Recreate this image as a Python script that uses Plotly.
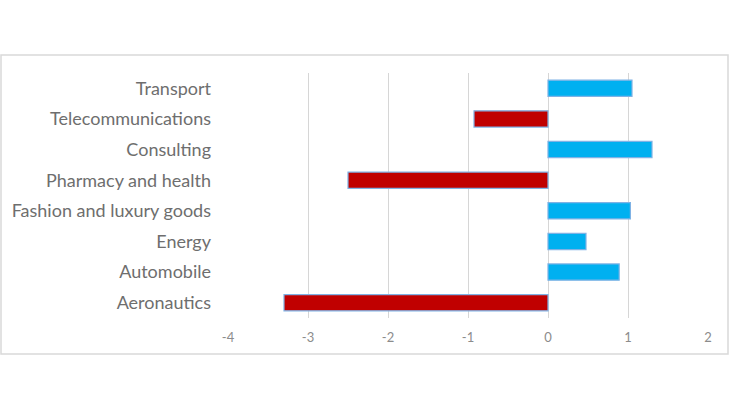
import plotly.graph_objects as go

categories = ["Aeronautics", "Automobile", "Energy", "Fashion and luxury goods",
              "Pharmacy and health", "Consulting", "Telecommunications", "Transport"]
values = [-3.30, 0.89, 0.475, 1.03, -2.50, 1.30, -0.925, 1.05]
tick_vals = [-4, -3, -2, -1, 0, 1, 2]
tick_text = ["-4", "-3", "-2", "-1", "0", "1", "2"]

colors = ["#C00000" if v < 0 else "#00B0F0" for v in values]

fig = go.Figure(go.Bar(
    x=values, y=categories, orientation="h",
    marker=dict(color=colors, line=dict(color="#7FB2E5", width=1.2)),
))

W, H = 730, 410
L, R, T, B = 228, 22, 73, 92
pw, ph = W - L - R, H - T - B

def px2paper_x(px):
    return (px - L) / pw

def px2paper_y(py):
    return (H - B - py) / ph

fig.update_layout(
    width=W, height=H,
    margin=dict(l=L, r=R, t=T, b=B),
    paper_bgcolor="white", plot_bgcolor="white",
    bargap=0.47,
    showlegend=False,
    font=dict(family="Lato, 'Open Sans', sans-serif", color="#595959"),
    xaxis=dict(range=[-4, 2], tickvals=tick_vals, ticktext=tick_text,
               showgrid=True, gridcolor="#D6D6D6",
               gridwidth=1.3, zeroline=False, showline=False, ticks="",
               ticklabelstandoff=10,
               tickfont=dict(size=13, color="#8C8C8C"), fixedrange=True),
    yaxis=dict(categoryorder="array", categoryarray=categories, range=[-0.5, 7.5],
               showgrid=False, zeroline=False, showline=False, ticks="",
               ticklabelstandoff=16,
               tickfont=dict(size=18, color="#6E6E6E"), fixedrange=True),
    shapes=[dict(type="rect", xref="paper", yref="paper",
                 x0=px2paper_x(1), x1=px2paper_x(728),
                 y0=px2paper_y(354), y1=px2paper_y(55),
                 line=dict(color="#D9D9D9", width=1.5), layer="below")],
)

fig.write_html("out.html", config={"displayModeBar": False},
               post_script="document.body.style.margin='0';")
